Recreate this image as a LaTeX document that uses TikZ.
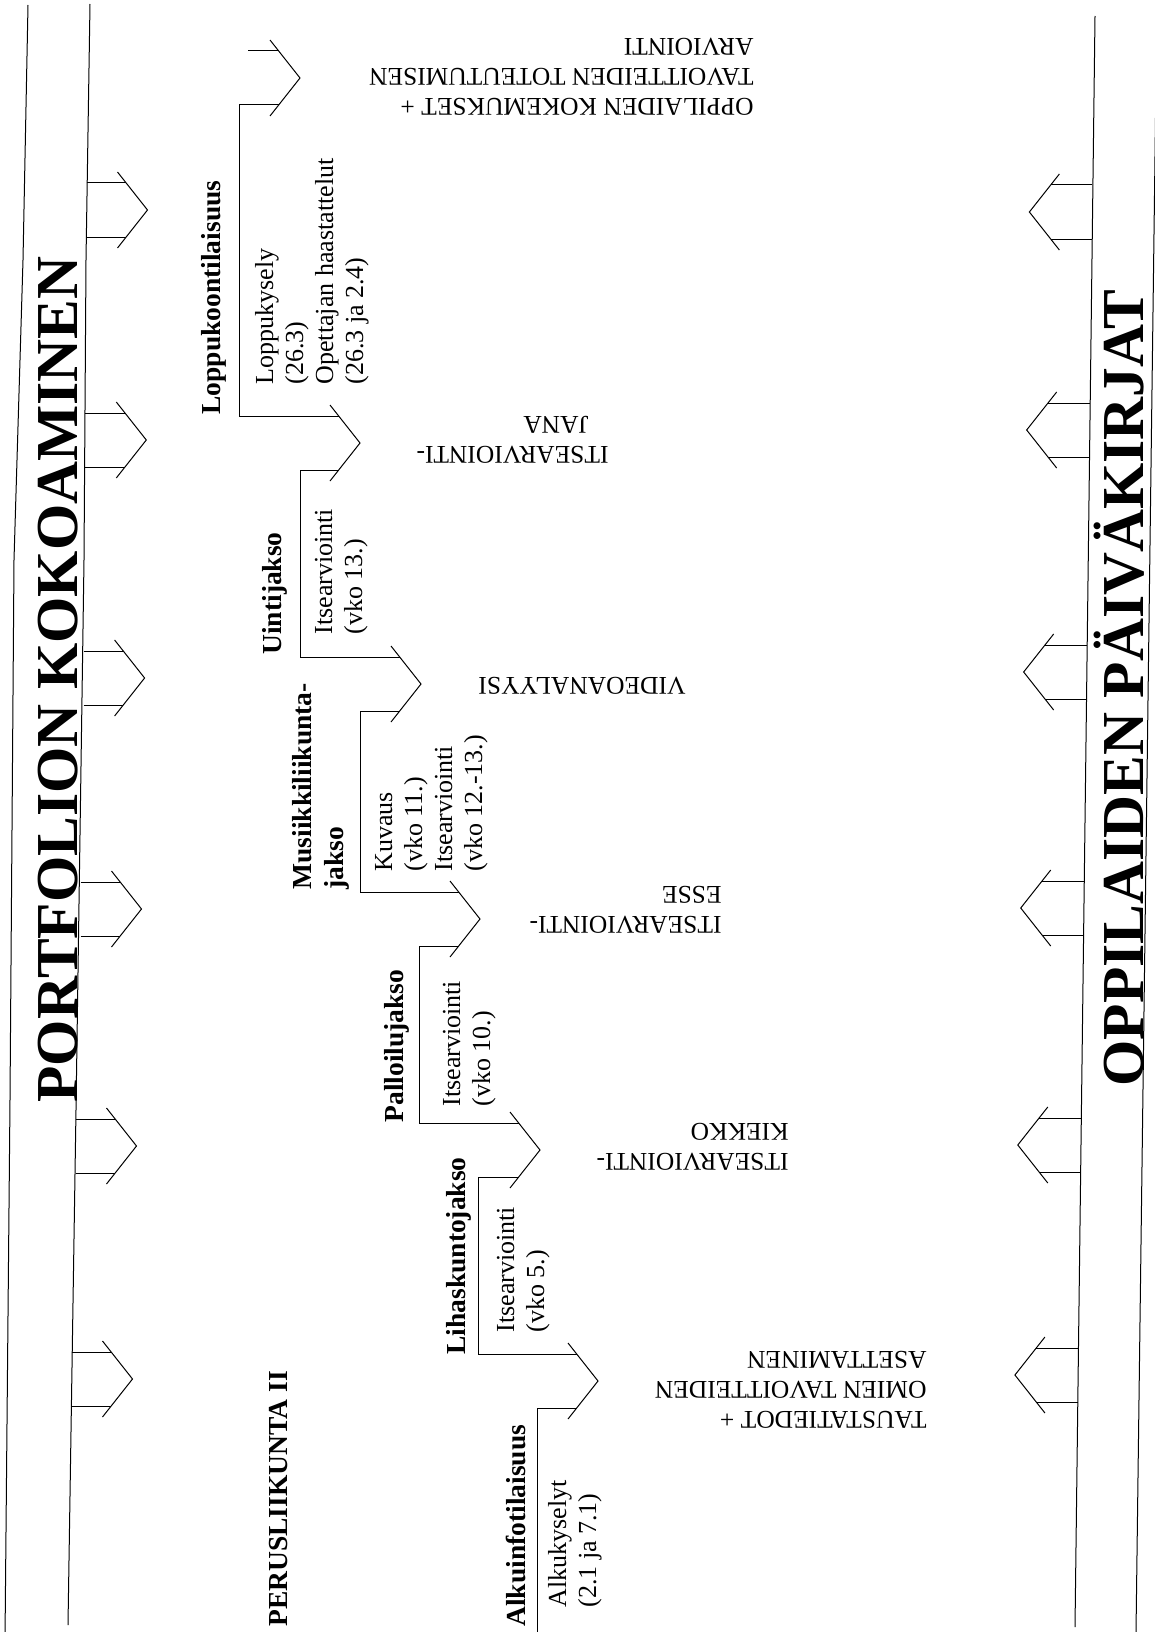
\documentclass[tikz,border=0pt]{standalone}
\usepackage{fontspec}
\setmainfont{Liberation Serif}
\begin{document}
\begin{tikzpicture}[x=1pt,y=-1pt,line width=1pt,
  lab/.style={rotate=90,anchor=base west,inner sep=0pt,align=left,font=\fontsize{26}{30}\selectfont},
  blab/.style={rotate=90,anchor=base west,inner sep=0pt,align=left,font=\fontsize{27.5}{32}\selectfont\bfseries},
  ulab/.style={rotate=180,anchor=base west,inner sep=0pt,align=left,font=\fontsize{25.5}{30}\selectfont},
  ttl/.style={rotate=90,anchor=base west,inner sep=0pt,font=\fontsize{59.5}{60}\selectfont\bfseries}]
\fill[white] (0,0) rectangle (1155,1632);
\clip (0,0) rectangle (1155,1632);
% frame lines
\coordinate (l1a) at (28,5);   \coordinate (l1b) at (5,1640);
\coordinate (l2a) at (90,4);   \coordinate (l2b) at (68,1625);
\coordinate (r1a) at (1095,16);\coordinate (r1b) at (1075,1627);
\coordinate (r2a) at (1157,0); \coordinate (r2b) at (1136,1632);
\draw (l1a) -- (23,260) -- (14,560) -- (10,1100) -- (l1b);
\draw (l2a) -- (86,260) -- (84,560) -- (76,1110) -- (l2b);
\draw (r1a) -- (r1b);
\draw (r2a) -- (r2b);
% left arrows
\foreach \m/\xl in {210/86.5,440/85.3,678/83.6,909/80.5,1146/75.5,1379/71.5}{
  \pgfmathsetmacro\tp{\xl+61}
  \draw (\xl,\m-27) -- (\tp-21.3,\m-27) (\xl,\m+27) -- (\tp-21.3,\m+27);
  \draw (\tp-30,\m-38) -- (\tp,\m) -- (\tp-30,\m+38);
}
% right arrows
\foreach \m in {212,430,672,908,1145,1375}{
  \pgfmathsetmacro\xr{1095-0.012415*\m}
  \pgfmathsetmacro\tp{\xr-63}
  \draw (\xr,\m-27) -- (\tp+21.3,\m-27) (\xr,\m+27) -- (\tp+21.3,\m+27);
  \draw (\tp+30,\m-38) -- (\tp,\m) -- (\tp+30,\m+38);
}
% central chevrons
\foreach \t/\m in {300/78,360/443,421/684,480/919,540/1150,598/1381}
  \draw (\t-30,\m-38) -- (\t,\m) -- (\t-30,\m+38);
% brackets
\draw (248,51) -- (278.7,51);
\draw (278.7,105) -- (239,105) -- (239,416) -- (338.7,416);
\draw (338.7,470) -- (300,470) -- (300,657) -- (399.7,657);
\draw (399.7,711) -- (360,711) -- (360,892) -- (458.7,892);
\draw (458.7,946) -- (419,946) -- (419,1123) -- (518.7,1123);
\draw (518.7,1177) -- (478,1177) -- (478,1354) -- (576.7,1354);
\draw (576.7,1408) -- (537,1408) -- (537,1640);
% titles
\node[ttl] (pk) at (77,1103) {PORTFOLION KOKOAMINEN};
\node[ttl] (op) at (1143,1087) {OPPILAIDEN PÄIVÄKIRJAT};
% bold labels
\node[blab] (lk) at (220,415) {Loppukoontilaisuus};
\node[blab] (uj) at (281,655) {Uintijakso};
\node[blab] (mj) at (343,890) {Musiikkiliikunta-\\jakso};
\node[blab] (pj) at (403,1123) {Palloilujakso};
\node[blab] (lj) at (465,1355) {Lihaskuntojakso};
\node[blab] (ai) at (525,1627) {Alkuinfotilaisuus};
\node[blab] (pl) at (287,1627) {PERUSLIIKUNTA II};
% regular labels
\node[lab] (t1) at (363,385) {Loppukysely\\(26.3)\\Opettajan haastattelut\\(26.3 ja 2.4)};
\node[lab] (t2) at (362,635) {Itsearviointi\\(vko 13.)};
\node[lab] (t3) at (482,872) {Kuvaus\\(vko 11.)\\Itsearviointi\\(vko 12.-13.)};
\node[lab] (t4) at (490,1107) {Itsearviointi\\(vko 10.)};
\node[lab] (t5) at (544,1333) {Itsearviointi\\(vko 5.)};
\node[lab] (t6) at (596,1608) {Alkukyselyt\\(2.1 ja 7.1)};
% upside-down labels
\node[ulab] (u0) at (754,39) {OPPILAIDEN KOKEMUKSET +\\TAVOITTEIDEN TOTEUTUMISEN\\ARVIOINTI};
\node[ulab] (u1) at (609,416) {ITSEARVIOINTI-\\\hspace*{20pt}JANA};
\node[ulab] (u2) at (686,677) {VIDEOANALYYSI};
\node[ulab] (u3) at (722,886) {ITSEARVIOINTI-\\ESSE};
\node[ulab] (u4) at (789,1123) {ITSEARVIOINTI-\\KIEKKO};
\node[ulab] (u5) at (927,1351) {TAUSTATIEDOT +\\OMIEN TAVOITTEIDEN\\ASETTAMINEN};
\end{tikzpicture}
\end{document}
